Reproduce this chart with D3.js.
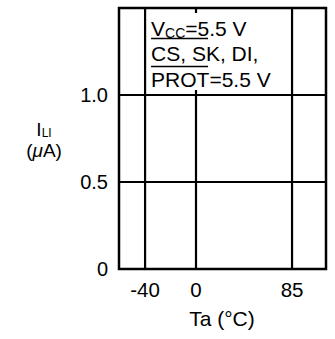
<!DOCTYPE html>
<html>
<head>
<meta charset="utf-8">
<script src="https://cdn.jsdelivr.net/npm/d3@7"></script>
<style>
  body { margin: 0; background: #fff; }
  svg text { font-family: "Liberation Sans", Arial, sans-serif; fill: #000; }
</style>
</head>
<body>
<svg id="chart" width="335" height="339"></svg>
<script>
// chart values
var tempTicks = [-40, 0, 85];          // Ta grid (degC)
var currentTicks = [0, 0.5, 1.0];      // I_LI grid (uA)
var tempDomain = [-60, 110];
var currentDomain = [0, 1.5];
var conditionLines = ["=5.5 V", "CS, SK, DI,", "PROT=5.5 V"];

var margins = { top: 8, left: 119, right: 9, bottom: 70 };
var width = 335 - margins.left - margins.right;
var height = 339 - margins.top - margins.bottom;

var svg = d3.select("#chart");
var g = svg.append("g").attr("transform", `translate(${margins.left},${margins.top})`);

// schematic temperature axis (not to scale in the original)
var xScale = d3.scaleLinear()
  .domain([tempDomain[0], tempTicks[0], tempTicks[1], tempTicks[2], tempDomain[1]])
  .range([0, width * 0.126, width * 0.372, width * 0.836, width]);

var yScale = d3.scaleLinear()
  .domain(currentDomain)
  .range([height, 0]);

// grid
g.selectAll(".vgrid")
  .data(tempTicks)
  .enter().append("line")
  .attr("class", "vgrid")
  .attr("x1", d => xScale(d)).attr("x2", d => xScale(d))
  .attr("y1", 0).attr("y2", height)
  .attr("stroke", "#000").attr("stroke-width", 2.2);

g.selectAll(".hgrid")
  .data(currentTicks.filter(d => d > 0))
  .enter().append("line")
  .attr("class", "hgrid")
  .attr("x1", 0).attr("x2", width)
  .attr("y1", d => yScale(d)).attr("y2", d => yScale(d))
  .attr("stroke", "#000").attr("stroke-width", 2.2);

// tick labels
g.selectAll(".xlab")
  .data(tempTicks)
  .enter().append("text")
  .attr("class", "xlab")
  .attr("x", d => xScale(d))
  .attr("y", height + 28)
  .attr("text-anchor", "middle")
  .attr("font-size", 20.5)
  .text(d => d);

g.selectAll(".ylab")
  .data(currentTicks)
  .enter().append("text")
  .attr("class", "ylab")
  .attr("x", -11)
  .attr("y", d => yScale(d) + 7)
  .attr("text-anchor", "end")
  .attr("font-size", 20)
  .text(d => d === 0 ? "0" : d.toFixed(1));

// axis titles
g.append("text")
  .attr("x", xScale(0) + 26)
  .attr("y", height + 57)
  .attr("text-anchor", "middle")
  .attr("font-size", 21)
  .text("Ta (°C)");

var yt = g.append("text")
  .attr("x", -75)
  .attr("y", 128)
  .attr("text-anchor", "middle")
  .attr("font-size", 19);
yt.append("tspan").text("I");
yt.append("tspan").attr("font-size", 12).attr("dy", 0.5).text("LI");
var yt2 = g.append("text")
  .attr("x", -75)
  .attr("y", 149)
  .attr("text-anchor", "middle")
  .attr("font-size", 19);
yt2.append("tspan").text("(");
yt2.append("tspan").attr("font-style", "italic").text("μ");
yt2.append("tspan").text("A)");

// condition box (white background cuts the 0 gridline)
var boxX = xScale(tempTicks[0]) + 3;
g.append("rect")
  .attr("x", boxX)
  .attr("y", 5)
  .attr("width", xScale(tempTicks[2]) - boxX - 3)
  .attr("height", 77)
  .attr("fill", "#fff");

var tx = boxX + 3;
var t1 = g.append("text").attr("x", tx).attr("y", 28).attr("font-size", 21);
t1.append("tspan").text("V");
t1.append("tspan").attr("font-size", 14).attr("dy", 2).text("CC");
t1.append("tspan").attr("dy", -2).text(conditionLines[0]);

g.append("text").attr("x", tx).attr("y", 53).attr("font-size", 21).text(conditionLines[1]);
g.append("text").attr("x", tx).attr("y", 79).attr("font-size", 21).text(conditionLines[2]);

// overbars
[30.5, 58.5].forEach(function (yy) {
  g.append("line")
    .attr("x1", tx).attr("x2", tx + 57)
    .attr("y1", yy).attr("y2", yy)
    .attr("stroke", "#000").attr("stroke-width", 1.5);
});

// frame
g.append("rect")
  .attr("x", 0).attr("y", 0)
  .attr("width", width).attr("height", height)
  .attr("fill", "none")
  .attr("stroke", "#000").attr("stroke-width", 2.5);
</script>
</body>
</html>
